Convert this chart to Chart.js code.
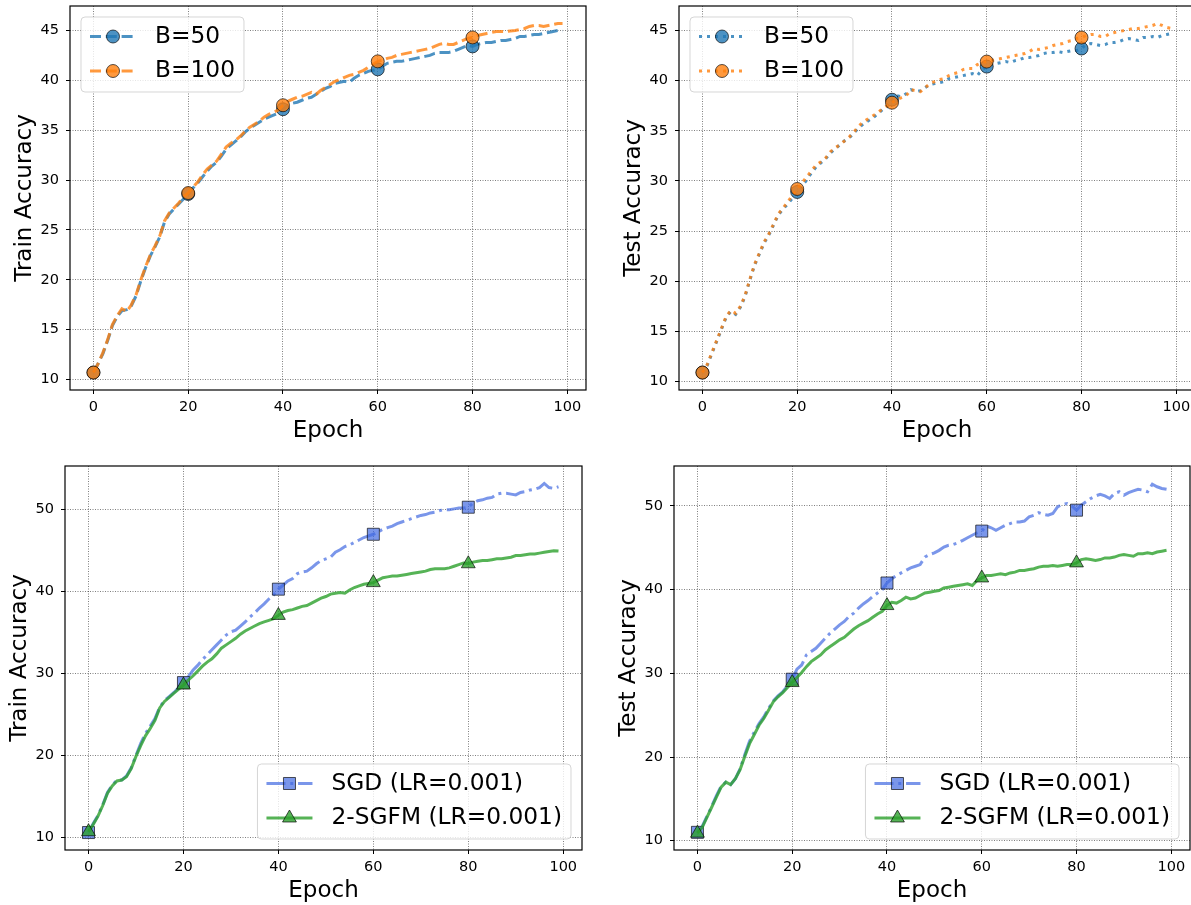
<!DOCTYPE html>
<html>
<head>
<meta charset="utf-8">
<script src="https://cdn.jsdelivr.net/npm/chart.js@4.4.0/dist/chart.umd.min.js"></script>
<style>
  html, body { margin: 0; padding: 0; background: #fff; overflow: hidden; }
  body { width: 1191px; height: 905px; position: relative; }
  .panel { position: absolute; }
</style>
</head>
<body>
<div class="panel" id="p1"><canvas id="c1"></canvas></div>
<div class="panel" id="p2"><canvas id="c2"></canvas></div>
<div class="panel" id="p3"><canvas id="c3"></canvas></div>
<div class="panel" id="p4"><canvas id="c4"></canvas></div>
<script>
// epochs 0..99
const epochs = Array.from({length: 100}, (_, i) => i);

const xTicks = [0, 20, 40, 60, 80, 100];
const topYTicks = [10, 15, 20, 25, 30, 35, 40, 45];
const bottomYTicks = [10, 20, 30, 40, 50];

const trainB50 = [10.7, 11.6, 12.6, 13.9, 15.4, 16.3, 16.9, 17.0, 17.4, 18.4,
  19.9, 21.2, 22.4, 23.3, 24.3, 25.8, 26.6, 27.1, 27.6, 28.1,
  28.6, 29.2, 29.7, 30.3, 30.9, 31.4, 31.8, 32.4, 33.1, 33.5,
  33.9, 34.3, 34.8, 35.2, 35.5, 35.8, 36.1, 36.3, 36.5, 36.7,
  37.1, 37.5, 37.7, 37.8, 38.0, 38.2, 38.3, 38.6, 38.9, 39.2,
  39.4, 39.7, 39.8, 39.9, 39.8, 40.2, 40.5, 40.7, 40.9, 41.0,
  41.1, 41.4, 41.7, 41.8, 41.9, 41.9, 42.0, 42.1, 42.2, 42.3,
  42.4, 42.5, 42.7, 42.8, 42.8, 42.8, 42.9, 43.1, 43.3, 43.5,
  43.4, 43.6, 43.7, 43.8, 43.8, 43.9, 44.0, 44.0, 44.1, 44.2,
  44.4, 44.4, 44.5, 44.6, 44.6, 44.7, 44.8, 44.9, 45.0, 44.95];

const trainB100 = [10.7, 11.6, 12.7, 14.0, 15.5, 16.4, 17.1, 16.8, 17.5, 18.5,
  20.0, 21.3, 22.5, 23.4, 24.4, 25.9, 26.7, 27.2, 27.7, 28.3,
  28.7, 29.3, 29.8, 30.5, 31.1, 31.5, 31.9, 32.6, 33.3, 33.7,
  34.0, 34.4, 34.9, 35.3, 35.6, 35.9, 36.3, 36.6, 36.8, 37.0,
  37.5, 37.9, 38.1, 38.3, 38.4, 38.6, 38.8, 38.6, 39.0, 39.3,
  39.6, 39.9, 40.1, 40.3, 40.5, 40.6, 40.8, 41.0, 41.3, 41.6,
  41.9, 42.0, 42.2, 42.3, 42.5, 42.6, 42.7, 42.8, 42.9, 43.0,
  43.1, 43.2, 43.4, 43.6, 43.7, 43.6, 43.6, 43.8, 44.0, 44.2,
  44.3, 44.5, 44.6, 44.7, 44.8, 44.9, 44.9, 44.9, 44.95, 45.0,
  45.1, 45.2, 45.4, 45.5, 45.5, 45.4, 45.5, 45.6, 45.7, 45.7];

const testB50 = [10.9, 11.6, 12.8, 14.0, 15.2, 16.4, 17.0, 16.7, 17.4, 18.5,
  20.1, 21.6, 22.7, 23.8, 24.6, 25.6, 26.6, 27.2, 27.7, 28.3,
  28.9, 29.5, 30.1, 30.8, 31.4, 31.8, 32.2, 32.8, 33.2, 33.6,
  34.0, 34.3, 34.8, 35.3, 35.7, 36.0, 36.3, 36.7, 37.1, 37.4,
  38.1, 38.5, 38.4, 38.7, 39.1, 38.9, 39.0, 39.3, 39.6, 39.7,
  39.8, 39.9, 40.2, 40.3, 40.4, 40.5, 40.6, 40.7, 40.5, 41.1,
  41.4, 41.7, 41.7, 41.8, 41.9, 41.8, 42.0, 42.1, 42.3, 42.3,
  42.4, 42.5, 42.7, 42.8, 42.8, 42.9, 42.8, 42.9, 43.0, 43.0,
  43.2, 43.6, 43.7, 43.6, 43.5, 43.6, 43.8, 43.8, 43.9, 44.1,
  44.2, 44.1, 44.0, 44.3, 44.3, 44.4, 44.3, 44.5, 44.6, 44.7];

const testB100 = [10.9, 11.7, 12.9, 14.1, 15.3, 16.5, 17.1, 16.8, 17.5, 18.6,
  20.2, 21.7, 22.8, 23.9, 24.7, 25.7, 26.7, 27.3, 27.9, 28.6,
  29.2, 29.8, 30.4, 31.0, 31.6, 31.9, 32.3, 32.9, 33.3, 33.6,
  34.0, 34.4, 34.9, 35.5, 35.9, 36.2, 36.5, 36.8, 37.2, 37.5,
  37.8, 38.1, 38.3, 38.5, 39.1, 39.0, 38.9, 39.3, 39.7, 39.9,
  40.1, 40.2, 40.5, 40.7, 40.8, 41.1, 41.2, 41.2, 41.6, 41.8,
  41.9, 42.0, 42.1, 42.2, 42.3, 42.4, 42.5, 42.6, 42.7, 42.9,
  43.2, 43.1, 43.2, 43.3, 43.5, 43.6, 43.7, 43.9, 44.0, 44.2,
  44.3, 44.5, 44.6, 44.6, 44.4, 44.4, 44.7, 44.8, 44.9, 45.0,
  45.1, 45.2, 45.2, 45.3, 45.4, 45.5, 45.7, 45.5, 45.3, 45.2];

const trainSGD = [10.6, 11.7, 12.7, 14.0, 15.5, 16.4, 17.0, 17.0, 17.5, 18.5,
  20.0, 21.5, 22.7, 23.6, 24.5, 25.9, 26.7, 27.2, 27.7, 28.3,
  28.9, 29.6, 30.4, 31.0, 31.7, 32.3, 32.9, 33.5, 34.1, 34.7,
  35.1, 35.3, 35.8, 36.3, 36.9, 37.4, 38.0, 38.5, 39.1, 39.6,
  40.3, 40.8, 41.3, 41.6, 42.2, 42.4, 42.5, 42.9, 43.4, 43.8,
  44.0, 44.2, 44.8, 45.1, 45.5, 45.7, 46.0, 46.3, 46.6, 46.8,
  47.0, 47.3, 47.6, 47.8, 48.0, 48.3, 48.5, 48.7, 48.9, 49.1,
  49.3, 49.4, 49.6, 49.7, 49.9, 50.0, 50.0, 50.1, 50.2, 50.2,
  50.3, 50.8, 51.1, 51.2, 51.4, 51.5, 51.9, 52.0, 52.0, 51.9,
  51.8, 52.1, 52.2, 52.4, 52.5, 52.7, 53.2, 52.7, 52.6, 52.8];

const testSGD = [11.0, 11.7, 12.9, 14.1, 15.4, 16.5, 17.0, 16.7, 17.4, 18.6,
  20.3, 21.9, 23.0, 24.0, 24.8, 25.8, 26.7, 27.3, 27.8, 28.5,
  29.3, 30.5, 31.0, 32.2, 32.6, 33.0, 33.6, 34.2, 34.8, 35.3,
  35.8, 36.2, 36.8, 37.2, 37.8, 38.3, 38.7, 39.2, 39.6, 40.0,
  40.8, 41.3, 41.7, 42.0, 42.3, 42.6, 42.8, 43.0, 43.9, 44.2,
  44.4, 44.7, 45.1, 45.3, 45.4, 45.6, 45.9, 46.2, 46.5, 46.8,
  47.0, 47.6, 47.4, 47.1, 47.4, 47.7, 47.9, 48.1, 48.1, 48.2,
  48.7, 48.9, 49.2, 49.0, 48.9, 49.1, 49.9, 50.2, 50.3, 50.0,
  49.5, 50.1, 50.5, 50.9, 51.2, 51.4, 51.2, 50.9, 51.5, 51.7,
  51.3, 51.6, 51.8, 52.0, 51.9, 51.7, 52.6, 52.3, 52.1, 52.0];

// the 2-SGFM runs are the same curves as B=50
const train2SGFM = trainB50;
const test2SGFM = testB50;

const FONT = 'DejaVu Sans';
const LEG_FS = 23.3;

function markerPath(ctx, style, x, y, r) {
  ctx.beginPath();
  if (style === 'rect') {
    const s = r * Math.SQRT1_2;
    ctx.rect(x - s, y - s, 2 * s, 2 * s);
  } else if (style === 'triangle') {
    let a = 0;
    ctx.moveTo(x + Math.sin(a) * r, y - Math.cos(a) * r);
    a += 2 * Math.PI / 3;
    ctx.lineTo(x + Math.sin(a) * r, y - Math.cos(a) * r);
    a += 2 * Math.PI / 3;
    ctx.lineTo(x + Math.sin(a) * r, y - Math.cos(a) * r);
    ctx.closePath();
  } else {
    ctx.arc(x, y, r, 0, Math.PI * 2);
  }
}

function drawLegend(chart) {
  const corner = chart.options.plugins.boxLegend.corner;
  const {ctx, chartArea: a} = chart;
  const sets = chart.data.datasets;
  ctx.save();
  ctx.font = LEG_FS + 'px "' + FONT + '"';
  const tw = Math.max(...sets.map(d => ctx.measureText(d.label).width));
  const pad = 9, handle = 46, gap = 19, h = 75;
  const w = pad + handle + gap + tw + pad;
  const x = corner === 'tl' ? a.left + 11 : a.right - 11 - w;
  const y = corner === 'tl' ? a.top + 11 : a.bottom - 11 - h;
  ctx.beginPath();
  ctx.roundRect(x, y, w, h, 4);
  ctx.fillStyle = 'rgba(255,255,255,0.8)';
  ctx.fill();
  ctx.strokeStyle = 'rgba(204,204,204,0.8)';
  ctx.lineWidth = 1;
  ctx.stroke();
  sets.forEach((d, i) => {
    const cy = y + 19.5 + i * 34.5;
    const x0 = x + pad;
    ctx.beginPath();
    ctx.setLineDash(d.borderDash || []);
    ctx.lineCap = 'butt';
    ctx.strokeStyle = d.borderColor;
    ctx.lineWidth = d.borderWidth;
    ctx.moveTo(x0, cy);
    ctx.lineTo(x0 + handle, cy);
    ctx.stroke();
    ctx.setLineDash([]);
    markerPath(ctx, d.pointStyle, x0 + handle / 2, cy, d.markerRadius);
    ctx.fillStyle = d.pointBackgroundColor;
    ctx.fill();
    ctx.strokeStyle = d.pointBorderColor;
    ctx.lineWidth = 1;
    ctx.stroke();
    ctx.fillStyle = '#000';
    ctx.textBaseline = 'middle';
    ctx.textAlign = 'left';
    ctx.fillText(d.label, x0 + handle + gap, cy);
  });
  ctx.restore();
}

const framePlugin = {
  id: 'frameAndLegend',
  afterDraw(chart) {
    const {ctx, chartArea: a} = chart;
    ctx.save();
    ctx.strokeStyle = '#000';
    ctx.lineWidth = 1.2;
    ctx.strokeRect(a.left, a.top, a.right - a.left, a.bottom - a.top);
    ctx.restore();
    drawLegend(chart);
  }
};

function series(label, data, color, dash, style, r, order) {
  return {
    label: label,
    data: data,
    order: order,
    borderColor: color,
    backgroundColor: color,
    borderWidth: 3,
    borderDash: dash,
    borderCapStyle: 'butt',
    pointStyle: style,
    markerRadius: r,
    pointRadius: c => (c.dataIndex % 20 === 0 ? r : 0),
    pointHoverRadius: 0,
    pointBackgroundColor: color,
    pointBorderColor: 'rgba(0,0,0,0.65)',
    pointBorderWidth: 1
  };
}

function axes(yMin, yMax, yTicks, yTitle) {
  const tickFont = {family: FONT, size: 14.5};
  const titleFont = {family: FONT, size: 23};
  const grid = {color: 'rgba(0,0,0,0.5)', lineWidth: 1, tickColor: '#000', tickLength: 4, tickWidth: 1};
  return {
    x: {
      type: 'linear', min: -4.95, max: 103.95,
      afterBuildTicks: s => { s.ticks = xTicks.map(v => ({value: v})); },
      afterFit: s => { s.height = 56; },
      ticks: {font: tickFont, color: '#000', padding: 5, maxRotation: 0, autoSkip: false},
      grid: grid,
      border: {display: false, dash: [1, 1.5]},
      title: {display: true, text: 'Epoch', font: titleFont, color: '#000', padding: {top: 0, bottom: 1}}
    },
    y: {
      type: 'linear', min: yMin, max: yMax,
      afterBuildTicks: s => { s.ticks = yTicks.map(v => ({value: v})); },
      afterFit: s => { s.width = 70; },
      ticks: {font: tickFont, color: '#000', padding: 7, autoSkip: false},
      grid: grid,
      border: {display: false, dash: [1, 1.5]},
      title: {display: true, text: yTitle, font: titleFont, color: '#000', padding: {top: 11, bottom: 0}}
    }
  };
}

function panel(n, area, datasets, scales, corner) {
  const div = document.getElementById('p' + n);
  const left = Math.round(area.l - 70), top = Math.round(area.t - 20);
  div.style.left = left + 'px';
  div.style.top = top + 'px';
  div.style.width = Math.round(area.r + 10 - left) + 'px';
  div.style.height = Math.round(area.b + 56 - top) + 'px';
  new Chart(document.getElementById('c' + n), {
    type: 'line',
    data: {labels: epochs, datasets: datasets},
    options: {
      responsive: true,
      maintainAspectRatio: false,
      animation: false,
      events: [],
      devicePixelRatio: 1,
      layout: {padding: {top: 20, right: 10, left: 0, bottom: 0}},
      plugins: {legend: {display: false}, tooltip: {enabled: false}, boxLegend: {corner: corner}},
      scales: scales
    },
    plugins: [framePlugin]
  });
}

const BLUE = 'rgba(31,119,180,0.8)';
const ORANGE = 'rgba(255,127,14,0.8)';
const ROYAL = 'rgba(65,105,225,0.7)';
const GREEN = 'rgba(44,160,44,0.8)';
const DASHED = [11, 4.8];
const DOTTED = [3, 5];
const DASHDOT = [19, 4.8, 3, 4.8];

panel(1, {l: 70, t: 6, r: 586, b: 390}, [
  series('B=50', trainB50, BLUE, DASHED, 'circle', 6.5, 1),
  series('B=100', trainB100, ORANGE, DASHED, 'circle', 6.5, 0)
], axes(8.95, 47.45, topYTicks, 'Train Accuracy'), 'tl');

panel(2, {l: 679, t: 6, r: 1195, b: 390}, [
  series('B=50', testB50, BLUE, DOTTED, 'circle', 6.5, 1),
  series('B=100', testB100, ORANGE, DOTTED, 'circle', 6.5, 0)
], axes(9.16, 47.44, topYTicks, 'Test Accuracy'), 'tl');

panel(3, {l: 64.5, t: 466, r: 581.5, b: 850}, [
  series('SGD (LR=0.001)', trainSGD, ROYAL, DASHDOT, 'rect', 8.5, 1),
  series('2-SGFM (LR=0.001)', train2SGFM, GREEN, [], 'triangle', 8, 0)
], axes(8.47, 55.33, bottomYTicks, 'Train Accuracy'), 'br');

panel(4, {l: 674, t: 466, r: 1190, b: 850}, [
  series('SGD (LR=0.001)', testSGD, ROYAL, DASHDOT, 'rect', 8.5, 1),
  series('2-SGFM (LR=0.001)', test2SGFM, GREEN, [], 'triangle', 8, 0)
], axes(8.89, 54.78, bottomYTicks, 'Test Accuracy'), 'br');
</script>
</body>
</html>
